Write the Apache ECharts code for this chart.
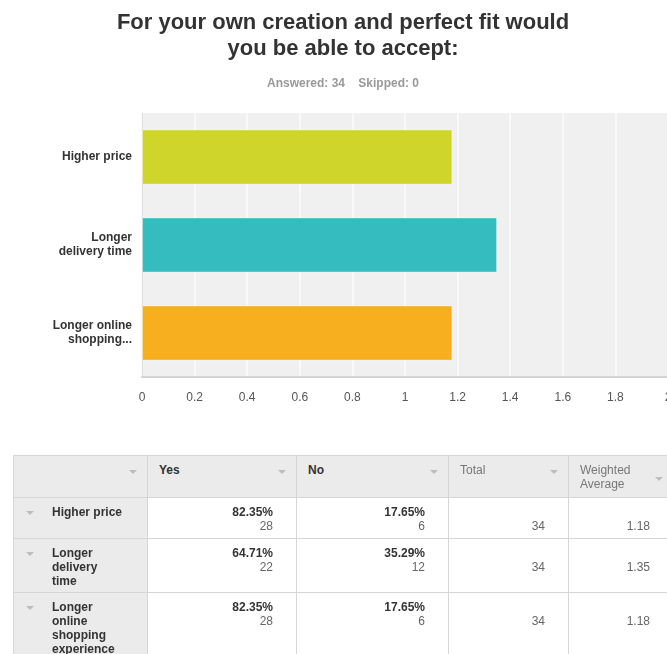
<!DOCTYPE html>
<html>
<head>
<meta charset="utf-8">
<script src="https://cdn.jsdelivr.net/npm/echarts@6/dist/echarts.min.js"></script>
<style>
  html, body { margin: 0; padding: 0; background: #fff; overflow: hidden; width: 667px; height: 654px; }
  #main { position: absolute; left: 0; top: 0; width: 667px; height: 654px; }
  #wrap { position: absolute; left: 13px; top: 455px; width: 700px; }
  #tbl { border-collapse: collapse; table-layout: fixed; width: 660px;
         font-family: "Liberation Sans", Arial, sans-serif; font-size: 12px; line-height: 14px; color: #333; }
  #tbl td, #tbl th { border: 1px solid #d6d6d6; vertical-align: top; padding: 0; position: relative; text-align: left; }
  #tbl th { background: #ebebeb; height: 41px; font-weight: normal; }
  #tbl th .h { position: absolute; left: 11px; top: 7px; }
  #tbl th .b { font-weight: bold; color: #333; }
  #tbl th .n { color: #777; }
  .arr { position: absolute; width: 0; height: 0; border-left: 4px solid transparent; border-right: 4px solid transparent; border-top: 4px solid #bdbdbd; }
  #tbl td.lab { background: #ebebeb; }
  #tbl td.lab .t { position: absolute; left: 38px; top: 7px; width: 71px; font-weight: bold; color: #333; }
  #tbl td.v { text-align: right; }
  .pct { font-weight: bold; color: #333; }
  .cnt { color: #666; }
  .tot { color: #666; }
</style>
</head>
<body>
<div id="main"></div>
<div id="wrap"><table id="tbl"></table></div>
<script>
// ---- data ----
var categories = ["Higher price", "Longer delivery time", "Longer online shopping experience"];
var axisLabels = ["Higher price", "Longer\ndelivery time", "Longer online\nshopping..."];
var weightedAverage = [1.18, 1.35, 1.18];
var barColors = ["#cfd52b", "#34bcbe", "#f7af20"];
var xTickMin = 0, xTickMax = 2, xTickStep = 0.2;
var answered = 34, skipped = 0;
var columns = ["", "Yes", "No", "Total", "Weighted\nAverage"];
var yesPct = ["82.35%", "64.71%", "82.35%"];
var yesCount = [28, 22, 28];
var noPct = ["17.65%", "35.29%", "17.65%"];
var noCount = [6, 12, 6];
var totals = [34, 34, 34];

// ---- chart ----
var chart = echarts.init(document.getElementById('main'), null, { renderer: 'canvas' });
var font = '"Liberation Sans", Arial, sans-serif';
chart.setOption({
  animation: false,
  title: [
    { text: 'For your own creation and perfect fit would\nyou be able to accept:', left: 338, top: 5, textAlign: 'center',
      textStyle: { fontFamily: font, fontSize: 22, fontWeight: 'bold', color: '#333', lineHeight: 26 } },
    { text: 'Answered: ' + answered + '    Skipped: ' + skipped, left: 338, top: 72, textAlign: 'center',
      textStyle: { fontFamily: font, fontSize: 12, fontWeight: 'bold', color: '#999', lineHeight: 14 } }
  ],
  grid: { left: 142, right: -1, top: 113, bottom: 277, show: true, backgroundColor: '#f0f0f0', borderWidth: 0,
          containLabel: false, outerBoundsMode: 'none' },
  xAxis: {
    type: 'value', min: xTickMin, max: xTickMax, interval: xTickStep,
    axisLine: { show: true, lineStyle: { color: '#d4d4d4', width: 2 } },
    axisTick: { show: false },
    splitLine: { show: true, lineStyle: { color: '#f9f9f9', width: 2 } },
    axisLabel: { fontFamily: font, fontSize: 12, color: '#555', margin: 15, showMaxLabel: true, hideOverlap: false,
                 formatter: function (v) { return String(Math.round(v * 10) / 10); } }
  },
  yAxis: {
    type: 'category', data: axisLabels, inverse: true,
    axisLine: { show: true, lineStyle: { color: '#e0e0e0', width: 1 } },
    axisTick: { show: false },
    axisLabel: { fontFamily: font, fontSize: 12, fontWeight: 'bold', color: '#333', margin: 10, lineHeight: 14, align: 'right' }
  },
  series: [{
    type: 'bar',
    data: weightedAverage.map(function (v, i) {
      return { value: v, itemStyle: { color: barColors[i] } };
    }),
    barCategoryGap: '37.5%',
    itemStyle: { borderColor: 'rgba(255,255,255,0.35)', borderWidth: 1 },
    silent: true
  }]
});

// ---- table ----
var colW = [134, 149, 152, 120, 105];
var rowH = [41, 54, 80];
var tbl = document.getElementById('tbl');
var html = '<colgroup>' + colW.map(function (w) { return '<col style="width:' + w + 'px">'; }).join('') + '</colgroup>';
html += '<tr>';
columns.forEach(function (c, i) {
  var cls = (i === 1 || i === 2) ? 'b' : 'n';
  var arrTop = (i === 4) ? 21 : 14;
  html += '<th><span class="h ' + cls + '">' + c.replace('\n', '<br>') + '</span>' +
          '<span class="arr" style="right:10px;top:' + arrTop + 'px"></span></th>';
});
html += '</tr>';
categories.forEach(function (cat, r) {
  html += '<tr style="height:' + rowH[r] + 'px">';
  html += '<td class="lab"><span class="arr" style="left:12px;top:13px"></span><span class="t">' + cat + '</span></td>';
  html += '<td class="v" style="padding:7px 23px 0 0"><div class="pct">' + yesPct[r] + '</div><div class="cnt">' + yesCount[r] + '</div></td>';
  html += '<td class="v" style="padding:7px 23px 0 0"><div class="pct">' + noPct[r] + '</div><div class="cnt">' + noCount[r] + '</div></td>';
  html += '<td class="v" style="padding:21px 23px 0 0"><div class="tot">' + totals[r] + '</div></td>';
  html += '<td class="v" style="padding:21px 23px 0 0"><div class="tot">' + weightedAverage[r].toFixed(2) + '</div></td>';
  html += '</tr>';
});
tbl.innerHTML = html;
</script>
</body>
</html>
